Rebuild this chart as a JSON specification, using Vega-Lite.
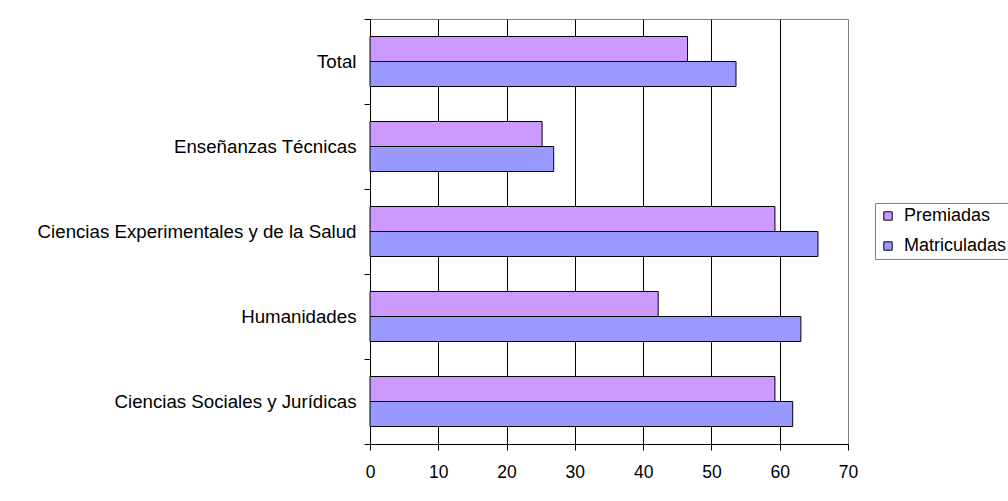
{
  "$schema": "https://vega.github.io/schema/vega-lite/v6.json",
  "width": 478,
  "height": 425,
  "autosize": {"type": "none"},
  "padding": {"left": 370, "top": 19, "right": 160, "bottom": 57},
  "background": "white",
  "data": {
    "values": [
      {"area": "Total", "serie": "Premiadas", "valor": 46.5},
      {"area": "Total", "serie": "Matriculadas", "valor": 53.6},
      {"area": "Enseñanzas Técnicas", "serie": "Premiadas", "valor": 25.2},
      {"area": "Enseñanzas Técnicas", "serie": "Matriculadas", "valor": 26.9},
      {"area": "Ciencias Experimentales y de la Salud", "serie": "Premiadas", "valor": 59.3},
      {"area": "Ciencias Experimentales y de la Salud", "serie": "Matriculadas", "valor": 65.6},
      {"area": "Humanidades", "serie": "Premiadas", "valor": 42.2},
      {"area": "Humanidades", "serie": "Matriculadas", "valor": 63.1},
      {"area": "Ciencias Sociales y Jurídicas", "serie": "Premiadas", "valor": 59.3},
      {"area": "Ciencias Sociales y Jurídicas", "serie": "Matriculadas", "valor": 61.9}
    ]
  },
  "mark": {"type": "bar", "stroke": "black", "strokeWidth": 1},
  "encoding": {
    "y": {
      "field": "area",
      "type": "nominal",
      "sort": ["Total", "Enseñanzas Técnicas", "Ciencias Experimentales y de la Salud", "Humanidades", "Ciencias Sociales y Jurídicas"],
      "scale": {"paddingInner": 0, "paddingOuter": 0},
      "axis": {
        "title": null,
        "tickBand": "extent",
        "tickSize": 6,
        "tickColor": "black",
        "domainColor": "black",
        "labelFontSize": 18.7,
        "labelColor": "black",
        "labelPadding": 8,
        "labelLimit": 400,
        "grid": false
      }
    },
    "yOffset": {
      "field": "serie",
      "sort": ["Premiadas", "Matriculadas"],
      "scale": {"paddingInner": 0, "paddingOuter": 0.7}
    },
    "x": {
      "field": "valor",
      "type": "quantitative",
      "scale": {"domain": [0, 70], "nice": false},
      "axis": {
        "title": null,
        "values": [0, 10, 20, 30, 40, 50, 60, 70],
        "grid": true,
        "gridColor": {"condition": {"test": "datum.value === 70", "value": "#808080"}, "value": "black"},
        "gridOpacity": 1,
        "tickSize": 6,
        "tickColor": "black",
        "domainColor": "black",
        "labelFontSize": 17.5,
        "labelColor": "black",
        "labelPadding": 13,
        "labelFlush": false,
        "labelOverlap": false
      }
    },
    "color": {
      "field": "serie",
      "type": "nominal",
      "scale": {"domain": ["Premiadas", "Matriculadas"], "range": ["#CC99FF", "#9999FF"]},
      "legend": {
        "title": null,
        "orient": "none",
        "legendX": 505,
        "legendY": 184,
        "strokeColor": "#808080",
        "fillColor": "white",
        "padding": 4,
        "labelFontSize": 18,
        "labelColor": "black",
        "labelLimit": 300,
        "labelOffset": 7,
        "symbolType": "square",
        "symbolSize": 70,
        "symbolStrokeColor": "black",
        "symbolStrokeWidth": 1,
        "symbolOpacity": 1,
        "rowPadding": 12
      }
    }
  },
  "config": {
    "font": "Liberation Sans",
    "view": {"stroke": "#808080", "strokeWidth": 1},
    "axis": {"domainWidth": 1, "tickWidth": 1, "gridWidth": 1}
  }
}
